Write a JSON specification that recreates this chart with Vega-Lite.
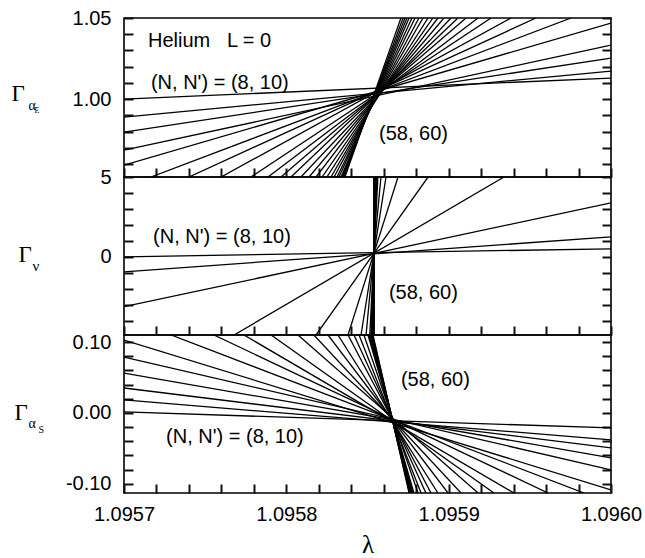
{
"$schema": "https://vega.github.io/schema/vega-lite/v6.json",
"padding": {"left": 10, "top": 7, "right": 5, "bottom": 0},
"background": "white",
"spacing": 0,
"bounds": "flush",
"config": {
 "view": {"stroke": "black", "strokeWidth": 1.6},
 "axis": {"grid": false, "domain": false, "labelFont": "Liberation Sans", "labelFontSize": 20, "labelColor": "black", "labelFlush": false, "labelOverlap": false, "titleColor": "black", "titleFontWeight": "normal", "titlePadding": 0}
},
"datasets": {
 "top": [
  {"n":8,"lam":1.0957,"g":1.0},{"n":8,"lam":1.096,"g":1.013},
  {"n":10,"lam":1.0957,"g":0.9889},{"n":10,"lam":1.096,"g":1.0173},
  {"n":12,"lam":1.0957,"g":0.9796},{"n":12,"lam":1.096,"g":1.0253},
  {"n":14,"lam":1.0957,"g":0.9685},{"n":14,"lam":1.096,"g":1.0333},
  {"n":16,"lam":1.0957,"g":0.9593},{"n":16,"lam":1.096,"g":1.0469},
  {"n":18,"lam":1.0957166,"g":0.952},{"n":18,"lam":1.0959754,"g":1.05},
  {"n":20,"lam":1.09574,"g":0.952},{"n":20,"lam":1.0959538,"g":1.05},
  {"n":22,"lam":1.0957598,"g":0.952},{"n":22,"lam":1.0959384,"g":1.05},
  {"n":24,"lam":1.0957782,"g":0.952},{"n":24,"lam":1.0959261,"g":1.05},
  {"n":26,"lam":1.0957887,"g":0.952},{"n":26,"lam":1.0959181,"g":1.05},
  {"n":28,"lam":1.0957967,"g":0.952},{"n":28,"lam":1.0959107,"g":1.05},
  {"n":30,"lam":1.0958029,"g":0.952},{"n":30,"lam":1.0959057,"g":1.05},
  {"n":32,"lam":1.095809,"g":0.952},{"n":32,"lam":1.0959014,"g":1.05},
  {"n":34,"lam":1.095814,"g":0.952},{"n":34,"lam":1.0958971,"g":1.05},
  {"n":36,"lam":1.0958183,"g":0.952},{"n":36,"lam":1.0958934,"g":1.05},
  {"n":38,"lam":1.095822,"g":0.952},{"n":38,"lam":1.0958903,"g":1.05},
  {"n":40,"lam":1.095825,"g":0.952},{"n":40,"lam":1.0958873,"g":1.05},
  {"n":42,"lam":1.0958275,"g":0.952},{"n":42,"lam":1.0958842,"g":1.05},
  {"n":44,"lam":1.0958294,"g":0.952},{"n":44,"lam":1.0958817,"g":1.05},
  {"n":46,"lam":1.0958312,"g":0.952},{"n":46,"lam":1.0958793,"g":1.05},
  {"n":48,"lam":1.0958324,"g":0.952},{"n":48,"lam":1.0958774,"g":1.05},
  {"n":50,"lam":1.0958337,"g":0.952},{"n":50,"lam":1.0958756,"g":1.05},
  {"n":52,"lam":1.0958343,"g":0.952},{"n":52,"lam":1.0958743,"g":1.05},
  {"n":54,"lam":1.0958349,"g":0.952},{"n":54,"lam":1.0958731,"g":1.05},
  {"n":56,"lam":1.0958355,"g":0.952},{"n":56,"lam":1.0958719,"g":1.05},
  {"n":58,"lam":1.0958361,"g":0.952},{"n":58,"lam":1.0958706,"g":1.05}
 ],
 "mid": [
  {"n":8,"lam":1.0957,"g":0.0},{"n":8,"lam":1.096,"g":0.5},
  {"n":10,"lam":1.0957,"g":-0.94},{"n":10,"lam":1.096,"g":1.25},
  {"n":12,"lam":1.0957,"g":-3.125},{"n":12,"lam":1.096,"g":3.375},
  {"n":14,"lam":1.0957678,"g":-4.9},{"n":14,"lam":1.0959341,"g":5},
  {"n":16,"lam":1.0958183,"g":-4.9},{"n":16,"lam":1.0958873,"g":5},
  {"n":18,"lam":1.095838,"g":-4.9},{"n":18,"lam":1.0958688,"g":5},
  {"n":20,"lam":1.095846,"g":-4.9},{"n":20,"lam":1.0958614,"g":5},
  {"n":22,"lam":1.0958491,"g":-4.9},{"n":22,"lam":1.0958583,"g":5},
  {"n":24,"lam":1.0958514,"g":-4.9},{"n":24,"lam":1.0958564,"g":5},
  {"n":26,"lam":1.0958521,"g":-4.9},{"n":26,"lam":1.0958558,"g":5},
  {"n":28,"lam":1.0958524,"g":-4.9},{"n":28,"lam":1.0958555,"g":5},
  {"n":30,"lam":1.0958527,"g":-4.9},{"n":30,"lam":1.0958552,"g":5},
  {"n":32,"lam":1.0958529,"g":-4.9},{"n":32,"lam":1.095855,"g":5},
  {"n":34,"lam":1.095853,"g":-4.9},{"n":34,"lam":1.0958549,"g":5},
  {"n":36,"lam":1.0958532,"g":-4.9},{"n":36,"lam":1.0958547,"g":5},
  {"n":38,"lam":1.0958534,"g":-4.9},{"n":38,"lam":1.0958546,"g":5},
  {"n":40,"lam":1.0958535,"g":-4.9},{"n":40,"lam":1.0958545,"g":5},
  {"n":42,"lam":1.0958536,"g":-4.9},{"n":42,"lam":1.0958544,"g":5},
  {"n":44,"lam":1.0958536,"g":-4.9},{"n":44,"lam":1.0958543,"g":5},
  {"n":46,"lam":1.0958537,"g":-4.9},{"n":46,"lam":1.0958543,"g":5},
  {"n":48,"lam":1.0958537,"g":-4.9},{"n":48,"lam":1.0958542,"g":5},
  {"n":50,"lam":1.0958538,"g":-4.9},{"n":50,"lam":1.0958542,"g":5},
  {"n":52,"lam":1.0958538,"g":-4.9},{"n":52,"lam":1.0958541,"g":5},
  {"n":54,"lam":1.0958539,"g":-4.9},{"n":54,"lam":1.0958541,"g":5},
  {"n":56,"lam":1.0958539,"g":-4.9},{"n":56,"lam":1.095854,"g":5},
  {"n":58,"lam":1.095854,"g":-4.9},{"n":58,"lam":1.095854,"g":5}
 ],
 "bot": [
  {"n":8,"lam":1.0957,"g":0.0014},{"n":8,"lam":1.096,"g":-0.0211},
  {"n":10,"lam":1.0957,"g":0.0183},{"n":10,"lam":1.096,"g":-0.038},
  {"n":12,"lam":1.0957,"g":0.0352},{"n":12,"lam":1.096,"g":-0.0493},
  {"n":14,"lam":1.0957,"g":0.0563},{"n":14,"lam":1.096,"g":-0.0634},
  {"n":16,"lam":1.0957,"g":0.0789},{"n":16,"lam":1.096,"g":-0.0803},
  {"n":18,"lam":1.0957,"g":0.1028},{"n":18,"lam":1.096,"g":-0.1085},
  {"n":20,"lam":1.095729,"g":0.11},{"n":20,"lam":1.0959834,"g":-0.113},
  {"n":22,"lam":1.0957554,"g":0.11},{"n":22,"lam":1.0959612,"g":-0.113},
  {"n":24,"lam":1.0957739,"g":0.11},{"n":24,"lam":1.0959402,"g":-0.113},
  {"n":26,"lam":1.0957906,"g":0.11},{"n":26,"lam":1.0959279,"g":-0.113},
  {"n":28,"lam":1.0958072,"g":0.11},{"n":28,"lam":1.0959181,"g":-0.113},
  {"n":30,"lam":1.095817,"g":0.11},{"n":30,"lam":1.0959076,"g":-0.113},
  {"n":32,"lam":1.0958257,"g":0.11},{"n":32,"lam":1.0958996,"g":-0.113},
  {"n":34,"lam":1.0958318,"g":0.11},{"n":34,"lam":1.0958934,"g":-0.113},
  {"n":36,"lam":1.095838,"g":0.11},{"n":36,"lam":1.0958891,"g":-0.113},
  {"n":38,"lam":1.0958417,"g":0.11},{"n":38,"lam":1.095886,"g":-0.113},
  {"n":40,"lam":1.0958448,"g":0.11},{"n":40,"lam":1.095883,"g":-0.113},
  {"n":42,"lam":1.0958478,"g":0.11},{"n":42,"lam":1.0958811,"g":-0.113},
  {"n":44,"lam":1.0958503,"g":0.11},{"n":44,"lam":1.0958786,"g":-0.113},
  {"n":46,"lam":1.0958509,"g":0.11},{"n":46,"lam":1.095878,"g":-0.113},
  {"n":48,"lam":1.0958515,"g":0.11},{"n":48,"lam":1.0958774,"g":-0.113},
  {"n":50,"lam":1.0958522,"g":0.11},{"n":50,"lam":1.0958768,"g":-0.113},
  {"n":52,"lam":1.0958525,"g":0.11},{"n":52,"lam":1.0958765,"g":-0.113},
  {"n":54,"lam":1.0958528,"g":0.11},{"n":54,"lam":1.0958762,"g":-0.113},
  {"n":56,"lam":1.0958531,"g":0.11},{"n":56,"lam":1.0958759,"g":-0.113},
  {"n":58,"lam":1.0958534,"g":0.11},{"n":58,"lam":1.0958756,"g":-0.113}
 ]
},
"vconcat": [
 {
  "width": 487, "height": 159,
  "resolve": {"axis": {"x": "independent", "y": "independent"}},
  "layer": [
   {"data": {"name": "top"}, "mark": {"type": "line", "clip": true, "color": "black", "strokeWidth": 1.3},
    "encoding": {
     "x": {"field": "lam", "type": "quantitative", "scale": {"domain": [1.0957, 1.096], "nice": false, "zero": false},
           "axis": {"orient": "bottom", "offset": -9, "values": [1.0957, 1.09572, 1.09574, 1.09576, 1.09578, 1.0958, 1.09582, 1.09584, 1.09586, 1.09588, 1.0959, 1.09592, 1.09594, 1.09596, 1.09598, 1.096], "tickColor": "#111111", "tickWidth": 2, "tickSize": 9, "labels": false, "title": null}},
     "y": {"field": "g", "type": "quantitative", "scale": {"domain": [0.952, 1.05], "nice": false, "zero": false},
           "axis": {"orient": "left", "offset": -9, "values": [0.96, 0.97, 0.98, 0.99, 1.0, 1.01, 1.02, 1.03, 1.04, 1.05], "tickColor": "#111111", "tickWidth": 2, "tickSize": 9, "labelPadding": 13,
                    "labelExpr": "abs(datum.value - 1) < 1e-9 || abs(datum.value - 1.05) < 1e-9 ? format(datum.value, '.2f') : ''",
                    "title": "Γ", "titleFont": "Liberation Serif", "titleFontSize": 23, "titleAngle": 0, "titleAlign": "left", "titleBaseline": "alphabetic", "titleX": -122, "titleY": 82}},
     "detail": {"field": "n", "type": "nominal"}
    }},
   {"data": {"values": [
      {"lam": 1.0957148, "g": 1.0321, "t": "Helium\u00a0\u00a0\u00a0L = 0"},
      {"lam": 1.0957166, "g": 1.0062, "t": "(N, N') = (8, 10)"},
      {"lam": 1.0958571, "g": 0.9747, "t": "(58, 60)"}
    ]},
    "mark": {"type": "text", "align": "left", "baseline": "alphabetic", "font": "Liberation Sans", "fontSize": 20, "color": "black"},
    "encoding": {
     "x": {"field": "lam", "type": "quantitative", "scale": {"domain": [1.0957, 1.096], "nice": false, "zero": false},
           "axis": {"orient": "top", "ticks": false, "labels": false,
                    "title": "E", "titleFont": "Liberation Serif", "titleFontSize": 8, "titleAngle": 0, "titleAlign": "left", "titleBaseline": "alphabetic", "titleX": -90, "titleY": 94}},
     "y": {"field": "g", "type": "quantitative", "scale": {"domain": [0.952, 1.05], "nice": false, "zero": false},
           "axis": {"orient": "right", "offset": -9, "values": [0.96, 0.97, 0.98, 0.99, 1.0, 1.01, 1.02, 1.03, 1.04, 1.05], "tickColor": "#111111", "tickWidth": 2, "tickSize": 9, "labels": false,
                    "title": "α", "titleFont": "Liberation Serif", "titleFontSize": 14, "titleAngle": 0, "titleAlign": "left", "titleBaseline": "alphabetic", "titleX": -574, "titleY": 91}},
     "text": {"field": "t", "type": "nominal"}
    }}
  ]
 },
 {
  "width": 487, "height": 158,
  "resolve": {"axis": {"x": "independent", "y": "independent"}},
  "layer": [
   {"data": {"name": "mid"}, "mark": {"type": "line", "clip": true, "color": "black", "strokeWidth": 1.3},
    "encoding": {
     "x": {"field": "lam", "type": "quantitative", "scale": {"domain": [1.0957, 1.096], "nice": false, "zero": false},
           "axis": {"orient": "bottom", "offset": -9, "values": [1.0957, 1.09572, 1.09574, 1.09576, 1.09578, 1.0958, 1.09582, 1.09584, 1.09586, 1.09588, 1.0959, 1.09592, 1.09594, 1.09596, 1.09598, 1.096], "tickColor": "#111111", "tickWidth": 2, "tickSize": 9, "labels": false, "title": null}},
     "y": {"field": "g", "type": "quantitative", "scale": {"domain": [-4.9, 5], "nice": false, "zero": false},
           "axis": {"orient": "left", "offset": -9, "values": [-4, -3, -2, -1, 0, 1, 2, 3, 4, 5], "tickColor": "#111111", "tickWidth": 2, "tickSize": 9, "labelPadding": 13,
                    "labelExpr": "datum.value == 0 || datum.value == 5 ? format(datum.value, 'd') : ''",
                    "title": "Γ", "titleFont": "Liberation Serif", "titleFontSize": 23, "titleAngle": 0, "titleAlign": "left", "titleBaseline": "alphabetic", "titleX": -115, "titleY": 84}},
     "detail": {"field": "n", "type": "nominal"}
    }},
   {"data": {"values": [
      {"lam": 1.0957179, "g": 0.875, "t": "(N, N') = (8, 10)"},
      {"lam": 1.0958632, "g": -2.625, "t": "(58, 60)"}
    ]},
    "mark": {"type": "text", "align": "left", "baseline": "alphabetic", "font": "Liberation Sans", "fontSize": 20, "color": "black"},
    "encoding": {
     "x": {"field": "lam", "type": "quantitative", "scale": {"domain": [1.0957, 1.096], "nice": false, "zero": false},
           "axis": {"orient": "top", "ticks": false, "labels": false, "title": null}},
     "y": {"field": "g", "type": "quantitative", "scale": {"domain": [-4.9, 5], "nice": false, "zero": false},
           "axis": {"orient": "right", "offset": -9, "values": [-4, -3, -2, -1, 0, 1, 2, 3, 4, 5], "tickColor": "#111111", "tickWidth": 2, "tickSize": 9, "labels": false,
                    "title": "ν", "titleFont": "Liberation Serif", "titleFontSize": 15, "titleAngle": 0, "titleAlign": "left", "titleBaseline": "alphabetic", "titleX": -570, "titleY": 93}},
     "text": {"field": "t", "type": "nominal"}
    }}
  ]
 },
 {
  "width": 487, "height": 158,
  "resolve": {"axis": {"x": "independent", "y": "independent"}},
  "layer": [
   {"data": {"name": "bot"}, "mark": {"type": "line", "clip": true, "color": "black", "strokeWidth": 1.3},
    "encoding": {
     "x": {"field": "lam", "type": "quantitative", "scale": {"domain": [1.0957, 1.096], "nice": false, "zero": false},
           "axis": {"orient": "bottom", "offset": -9, "values": [1.0957, 1.09572, 1.09574, 1.09576, 1.09578, 1.0958, 1.09582, 1.09584, 1.09586, 1.09588, 1.0959, 1.09592, 1.09594, 1.09596, 1.09598, 1.096], "tickColor": "#111111", "tickWidth": 2, "tickSize": 9, "labelPadding": 11,
                    "labelExpr": "abs(datum.value * 10000 - round(datum.value * 10000)) < 1e-6 ? format(datum.value, '.4f') : ''",
                    "title": "λ", "titleFont": "Liberation Serif", "titleFontSize": 25, "titleBaseline": "alphabetic", "titleY": 68}},
     "y": {"field": "g", "type": "quantitative", "scale": {"domain": [-0.113, 0.11], "nice": false, "zero": false},
           "axis": {"orient": "left", "offset": -9, "values": [-0.1, -0.08, -0.06, -0.04, -0.02, 0, 0.02, 0.04, 0.06, 0.08, 0.1], "tickColor": "#111111", "tickWidth": 2, "tickSize": 9, "labelPadding": 13,
                    "labelExpr": "abs(datum.value) < 1e-9 ? '0.00' : (abs(abs(datum.value) - 0.1) < 1e-9 ? (datum.value < 0 ? '-0.10' : '0.10') : '')",
                    "title": "Γ", "titleFont": "Liberation Serif", "titleFontSize": 23, "titleAngle": 0, "titleAlign": "left", "titleBaseline": "alphabetic", "titleX": -119, "titleY": 84}},
     "detail": {"field": "n", "type": "nominal"}
    }},
   {"data": {"values": [
      {"lam": 1.0958706, "g": 0.038, "t": "(58, 60)"},
      {"lam": 1.0957259, "g": -0.0423, "t": "(N, N') = (8, 10)"}
    ]},
    "mark": {"type": "text", "align": "left", "baseline": "alphabetic", "font": "Liberation Sans", "fontSize": 20, "color": "black"},
    "encoding": {
     "x": {"field": "lam", "type": "quantitative", "scale": {"domain": [1.0957, 1.096], "nice": false, "zero": false},
           "axis": {"orient": "top", "ticks": false, "labels": false,
                    "title": "S", "titleFont": "Liberation Serif", "titleFontSize": 10, "titleAngle": 0, "titleAlign": "left", "titleBaseline": "alphabetic", "titleX": -86, "titleY": 97}},
     "y": {"field": "g", "type": "quantitative", "scale": {"domain": [-0.113, 0.11], "nice": false, "zero": false},
           "axis": {"orient": "right", "offset": -9, "values": [-0.1, -0.08, -0.06, -0.04, -0.02, 0, 0.02, 0.04, 0.06, 0.08, 0.1], "tickColor": "#111111", "tickWidth": 2, "tickSize": 9, "labels": false,
                    "title": "α", "titleFont": "Liberation Serif", "titleFontSize": 14, "titleAngle": 0, "titleAlign": "left", "titleBaseline": "alphabetic", "titleX": -574, "titleY": 92}},
     "text": {"field": "t", "type": "nominal"}
    }}
  ]
 }
]
}
